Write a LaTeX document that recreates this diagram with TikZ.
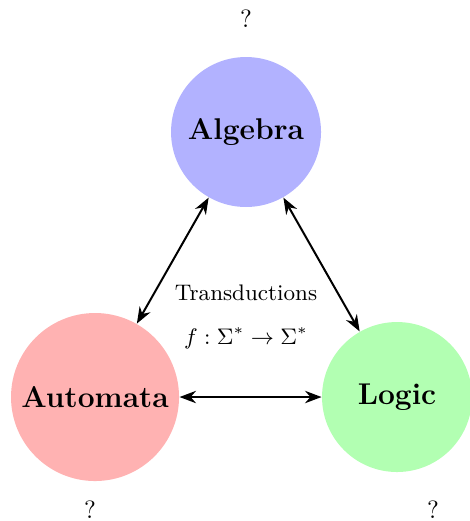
\documentclass[tikz,border=0pt]{standalone}
\usetikzlibrary{arrows.meta}

\begin{document}
\begin{tikzpicture}[>=Stealth,
 fld/.style={circle,minimum size=60pt,inner sep=3.33pt,font=\large\bfseries},
 tr/.style={<->,thick}]
\useasboundingbox (0,0) rectangle (6.594,7.325);
\node[fld,fill=blue!30] (Alg) at (3.459,5.469) {Algebra};
\node[fld,fill=red!30] (Aut) at (1.336,1.743) {Automata};
\node[fld,fill=green!30] (Log) at (5.582,1.743) {Logic};
\draw[tr] (Alg)--(Aut); \draw[tr] (Alg)--(Log); \draw[tr] (Aut)--(Log);
\node[font=\small] (TrT) at (3.459,3.206) {Transductions};
\node[font=\small] (TrF) at (3.459,2.573) {$f:\Sigma^*\to\Sigma^*$};
\node (QAlg) at (3.459,7.065) {?};
\node (QAut) at (1.265,0.155) {?};\node (QLog) at (6.088,0.155) {?};
\end{tikzpicture}
\end{document}
